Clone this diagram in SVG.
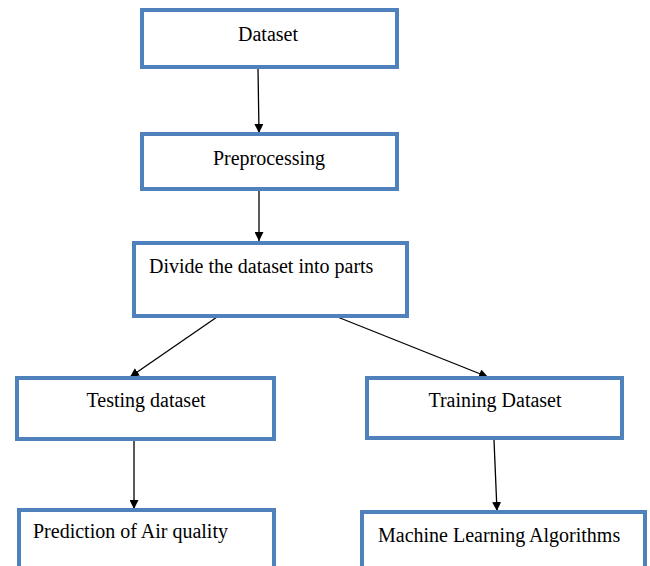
<svg xmlns="http://www.w3.org/2000/svg" width="650" height="566" viewBox="0 0 650 566">
  <style>
    .box { fill: #ffffff; stroke: #4f81bd; stroke-width: 4; }
    .lbl { font-family: "Liberation Serif", "Times New Roman", serif; font-size: 20px; fill: #000000; }
    .mid { text-anchor: middle; }
    .link { stroke: #000000; stroke-width: 1.3; fill: none; marker-end: url(#head); }
  </style>
  <defs>
    <marker id="head" viewBox="0 0 10 10" refX="10" refY="5" markerWidth="9" markerHeight="9" markerUnits="userSpaceOnUse" orient="auto">
      <path d="M0,0 L10,5 L0,10 Z" fill="#000000"/>
    </marker>
  </defs>
  <rect width="650" height="566" fill="#ffffff"/>

  <g id="connectors">
    <line class="link" x1="258" y1="69" x2="259" y2="133"/>
    <line class="link" x1="259" y1="191" x2="259" y2="241"/>
    <line class="link" x1="217" y1="317" x2="130" y2="377"/>
    <line class="link" x1="335" y1="316" x2="488" y2="377"/>
    <line class="link" x1="134" y1="441" x2="134" y2="509"/>
    <line class="link" x1="494" y1="440" x2="497" y2="511"/>
  </g>

  <g id="dataset">
    <rect class="box" x="142" y="10" width="255" height="57"/>
    <text class="lbl mid" x="268" y="41">Dataset</text>
  </g>
  <g id="preprocessing">
    <rect class="box" x="142" y="134" width="255" height="55"/>
    <text class="lbl mid" x="269" y="165">Preprocessing</text>
  </g>
  <g id="divide">
    <rect class="box" x="134" y="243" width="273" height="73"/>
    <text class="lbl" x="149" y="273">Divide the dataset into parts</text>
  </g>
  <g id="testing">
    <rect class="box" x="17" y="378" width="257" height="61"/>
    <text class="lbl mid" x="146" y="407">Testing dataset</text>
  </g>
  <g id="training">
    <rect class="box" x="367" y="378" width="255" height="60"/>
    <text class="lbl mid" x="495" y="407">Training Dataset</text>
  </g>
  <g id="prediction">
    <rect class="box" x="19" y="510" width="255" height="70"/>
    <text class="lbl" x="33" y="538">Prediction of Air quality</text>
  </g>
  <g id="ml-algorithms">
    <rect class="box" x="362" y="512" width="283" height="70"/>
    <text class="lbl" x="378" y="542">Machine Learning Algorithms</text>
  </g>
</svg>
